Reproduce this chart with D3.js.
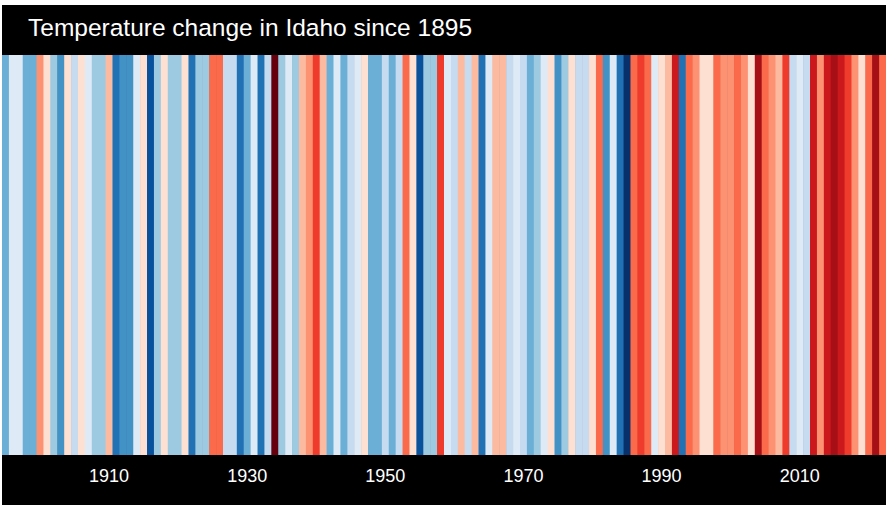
<!DOCTYPE html>
<html><head><meta charset="utf-8">
<script src="https://cdn.jsdelivr.net/npm/d3@7"></script>
<style>html,body{margin:0;padding:0;background:#fff;}svg{display:block;}</style>
</head><body>
<script>
// Data
const startYear = 1895;
const anomalies = [
 -0.9,-0.15,-0.15,-0.9,-0.9,0.6,0.1,-0.65,-1.15,0.1,
 -0.4,0.1,-0.15,-0.65,-0.65,0.35,-1.4,-1.15,-1.15,-0.15,
 0.1,-1.65,-0.65,0.1,-0.65,-0.65,0.1,-1.4,-0.65,-0.65,
 0.85,0.85,-0.4,-0.4,-1.4,-0.9,-0.15,-1.4,-0.4,1.85,
 -0.65,-0.15,-0.65,0.35,0.6,1.1,0.35,-0.9,-0.15,-0.9,
 -0.4,-0.15,0.1,-0.9,-0.9,-0.4,-0.9,-0.4,0.85,0.1,
 -1.65,-0.65,-0.65,1.1,-0.15,-0.4,0.35,-0.4,0.35,-1.4,
 -0.15,0.35,0.35,-0.4,-0.15,-0.4,-0.9,-0.65,-0.15,0.1,
 -1.15,-0.65,0.1,-0.4,-0.4,0.1,0.85,-1.15,-0.15,-1.4,
 -1.9,0.85,1.1,0.85,-0.15,0.1,0.35,1.35,-1.4,0.85,
 0.6,0.1,0.1,0.85,0.6,0.6,0.85,0.6,0.1,1.6,
 0.85,0.6,0.35,1.1,-0.4,-0.15,-0.4,1.35,0.6,1.35,
 1.6,1.35,1.1,0.6,0.1,0.85,1.6,0.85
];
const years = anomalies.map((d,i)=>startYear+i);
const tickYears = [1910,1930,1950,1970,1990,2010];
const title = "Temperature change in Idaho since 1895";
const palette = ["#08306b","#08519c","#2171b5","#4292c6","#6baed6","#9ecae1","#c6dbef","#deebf7",
                 "#fee0d2","#fcbba1","#fc9272","#fb6a4a","#ef3b2c","#cb181d","#a50f15","#67000d"];

const W=888,H=508;
const svg=d3.select("body").append("svg").attr("width",W).attr("height",H);
svg.append("rect").attr("x",2).attr("y",5).attr("width",884).attr("height",500).attr("fill","#000");

const x=d3.scaleBand().domain(years).range([2,886]).paddingInner(0).paddingOuter(0);
const color=d3.scaleQuantize().domain([-2,2]).range(palette);
const stripeTop=55,stripeBottom=455;

svg.append("g").selectAll("rect").data(years).join("rect")
  .attr("x",d=>x(d)).attr("y",stripeTop)
  .attr("width",(d,i)=> i===years.length-1 ? x.bandwidth() : x.bandwidth()+0.6)
  .attr("height",stripeBottom-stripeTop)
  .attr("fill",(d,i)=>color(anomalies[i]));

svg.append("text").attr("x",28).attr("y",36).attr("fill","#fff")
  .attr("font-family","Liberation Sans, Arial, Helvetica, sans-serif").attr("font-size",24.5)
  .text(title);

const axis=d3.axisBottom(x).tickValues(tickYears).tickSize(0).tickPadding(0);
const ag=svg.append("g").attr("transform",`translate(0,${stripeBottom})`).call(axis);
ag.select(".domain").remove();
ag.selectAll("text").attr("fill","#fff").attr("font-size",18).attr("dy",0).attr("y",26.5)
  .attr("font-family","Liberation Sans, Arial, Helvetica, sans-serif");
</script>
</body></html>
